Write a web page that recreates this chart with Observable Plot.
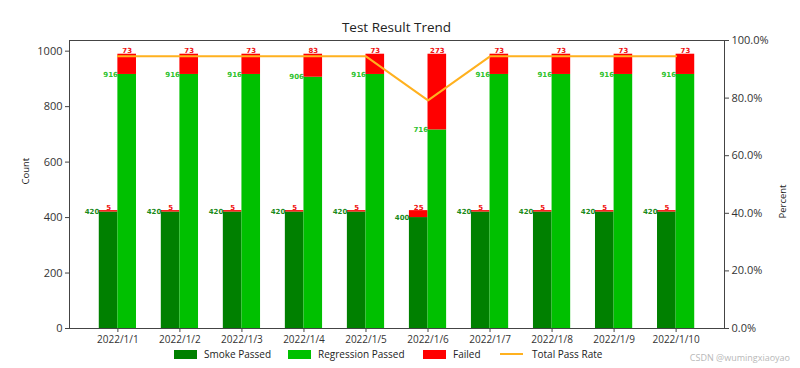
<!DOCTYPE html>
<html>
<head>
<meta charset="utf-8">
<script src="https://cdn.jsdelivr.net/npm/d3@7"></script>
<script src="https://cdn.jsdelivr.net/npm/@observablehq/plot@0.6"></script>
<style>
  html, body { margin: 0; padding: 0; background: #fff; }
  #wrap { position: relative; width: 800px; height: 368px; font-family: "Open Sans", "Noto Sans", sans-serif; color: #222; }
  #title { position: absolute; left: 69px; width: 655px; top: 18px; text-align: center; font-size: 13.5px; line-height: 18px; }
  .lg { position: absolute; top: 346px; font-size: 10px; line-height: 16px; white-space: nowrap; }
  .sw { position: absolute; top: 350px; width: 23px; height: 9px; }
  #wm { position: absolute; right: 10px; top: 351px; font-size: 9px; color: #b8b8b8; white-space: nowrap; }
</style>
</head>
<body>
<div id="wrap">
  <div id="chart"></div>
  <div id="title">Test Result Trend</div>
</div>
<script>
const dates = ["2022/1/1","2022/1/2","2022/1/3","2022/1/4","2022/1/5","2022/1/6","2022/1/7","2022/1/8","2022/1/9","2022/1/10"];
const smokePassed = [420,420,420,420,420,400,420,420,420,420];
const smokeFailed = [5,5,5,5,5,25,5,5,5,5];
const regressionPassed = [916,916,916,906,916,716,916,916,916,916];
const regressionFailed = [73,73,73,83,73,273,73,73,73,73];
const passRate = [0.945,0.945,0.945,0.945,0.945,0.792,0.945,0.945,0.945,0.945];
const yTicks = [0,200,400,600,800,1000];
const pctTicks = [0,0.2,0.4,0.6,0.8,1.0];
const legendLabels = ["Smoke Passed","Regression Passed","Failed","Total Pass Rate"];

const colors = {smoke: "#008000", regression: "#00c000", failed: "#ff0000", rate: "#ffb11f"};
const barW = 0.3;

const rows = dates.map((d, i) => ({
  i, date: d,
  sp: smokePassed[i], sf: smokeFailed[i],
  rp: regressionPassed[i], rf: regressionFailed[i],
  rate: passRate[i]
}));

const maxTotal = d3.max(rows, r => Math.max(r.sp + r.sf, r.rp + r.rf));
const yMax = maxTotal * 1.05;
const xPad = (dates.length - 1 + 2 * barW) * 0.05;
const xDomain = [-barW - xPad, dates.length - 1 + barW + xPad];

const axisColor = "#444";
const fontTick = "Open Sans, Noto Sans, sans-serif";
const lblFont = {fontSize: 7, fontWeight: 600, fontFamily: "DejaVu Sans"};

const chart = Plot.plot({
  width: 800,
  height: 368,
  marginTop: 40,
  marginBottom: 40,
  marginLeft: 69,
  marginRight: 76,
  style: {background: "transparent", fontFamily: fontTick, color: "#333"},
  x: {type: "linear", domain: xDomain},
  y: {domain: [0, yMax]},
  marks: [
    Plot.rectY(rows, {x1: d => d.i - barW, x2: d => d.i, y1: 0, y2: "sp", fill: colors.smoke}),
    Plot.rectY(rows, {x1: d => d.i - barW, x2: d => d.i, y1: "sp", y2: d => d.sp + d.sf, fill: colors.failed}),
    Plot.rectY(rows, {x1: d => d.i, x2: d => d.i + barW, y1: 0, y2: "rp", fill: colors.regression}),
    Plot.rectY(rows, {x1: d => d.i, x2: d => d.i + barW, y1: "rp", y2: d => d.rp + d.rf, fill: colors.failed}),
    Plot.text(rows, {x: d => d.i - barW, y: "sp", text: d => String(d.sp), textAnchor: "end", fill: "#1a8a1a", ...lblFont}),
    Plot.text(rows, {x: d => d.i, y: "rp", text: d => String(d.rp), textAnchor: "end", fill: "#2cc22c", ...lblFont}),
    Plot.text(rows, {x: d => d.i - barW / 2, y: d => d.sp + d.sf, text: d => String(d.sf), lineAnchor: "bottom", dy: -1, fill: "#f01010", ...lblFont}),
    Plot.text(rows, {x: d => d.i + barW / 2, y: d => d.rp + d.rf, text: d => String(d.rf), lineAnchor: "bottom", dy: -1, fill: "#f01010", ...lblFont}),
    Plot.line(rows, {x: "i", y: d => d.rate * yMax, stroke: colors.rate, strokeWidth: 2}),
    Plot.axisY({ticks: yTicks, tickFormat: d3.format("d"), tickSize: 4, tickPadding: 3, label: null, fontSize: 11, stroke: axisColor}),
    Plot.axisY({anchor: "right", ticks: pctTicks.map(p => p * yMax), tickFormat: v => (v / yMax * 100).toFixed(1) + "%", tickSize: 4, tickPadding: 3, label: null, fontSize: 11, stroke: axisColor}),
    Plot.axisX({ticks: d3.range(dates.length), tickFormat: i => dates[i], tickSize: 4, tickPadding: 3, label: null, fontSize: 10, stroke: axisColor}),
    Plot.frame({stroke: axisColor}),
    Plot.text(["Count"], {frameAnchor: "left", dx: -44, rotate: -90, fontSize: 9.5, fill: "#222"}),
    Plot.text(["Percent"], {frameAnchor: "right", dx: 58, rotate: -90, fontSize: 9.5, fill: "#222"})
  ]
});
document.getElementById("chart").appendChild(chart);

const wrap = document.getElementById("wrap");
const legendItems = [
  {label: legendLabels[0], color: colors.smoke, sx: 174, tx: 204, kind: "rect"},
  {label: legendLabels[1], color: colors.regression, sx: 288, tx: 318, kind: "rect"},
  {label: legendLabels[2], color: colors.failed, sx: 423, tx: 453, kind: "rect"},
  {label: legendLabels[3], color: colors.rate, sx: 500, tx: 532, kind: "line"}
];
for (const it of legendItems) {
  const sw = document.createElement("div");
  sw.className = "sw";
  sw.style.left = it.sx + "px";
  sw.style.background = it.color;
  if (it.kind === "line") { sw.style.height = "2px"; sw.style.top = "353px"; }
  wrap.appendChild(sw);
  const t = document.createElement("div");
  t.className = "lg";
  t.style.left = it.tx + "px";
  t.textContent = it.label;
  wrap.appendChild(t);
}
const wm = document.createElement("div");
wm.id = "wm";
wm.textContent = "CSDN @wumingxiaoyao";
wrap.appendChild(wm);
</script>
</body>
</html>
